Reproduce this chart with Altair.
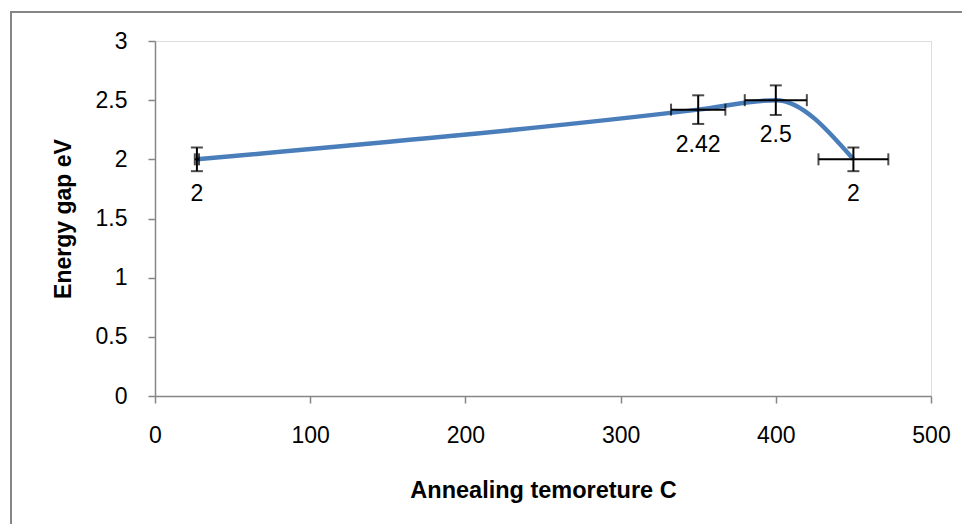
import altair as alt
import pandas as pd

# data
temps = [27, 350, 400, 450]
gaps = [2.0, 2.42, 2.5, 2.0]
gap_err = [0.1, 0.121, 0.125, 0.1]
temp_err = [1.35, 17.5, 20.0, 22.5]
labels = ["2", "2.42", "2.5", "2"]

df = pd.DataFrame({
    "t": temps, "g": gaps, "lab": labels,
    "g_lo": [g - e for g, e in zip(gaps, gap_err)],
    "g_hi": [g + e for g, e in zip(gaps, gap_err)],
    "t_lo": [t - e for t, e in zip(temps, temp_err)],
    "t_hi": [t + e for t, e in zip(temps, temp_err)],
})

FONT = "Liberation Sans"
TFONT = "Liberation Sans"
GRAY = "#868686"

xscale = alt.Scale(domain=[0, 500], nice=False, zero=False)
yscale = alt.Scale(domain=[0, 3], nice=False)

xaxis = alt.Axis(
    values=[0, 100, 200, 300, 400, 500], format="d", grid=False,
    title="Annealing temoreture C", titleFont=TFONT, titleFontSize=23.5,
    titleFontWeight="bold", titleColor="black", titleX=388, titleY=101,
    titleBaseline="alphabetic", titleAlign="center",
    labelFont=FONT, labelFontSize=23, labelColor="black", labelPadding=21,
    labelFlush=False, labelOverlap=False,
    tickSize=7, tickColor=GRAY, tickWidth=1.5, domainColor=GRAY, domainWidth=1.5,
)
yaxis = alt.Axis(
    values=[0, 0.5, 1, 1.5, 2, 2.5, 3], format="~g", grid=False,
    title="Energy gap eV", titleFont=TFONT, titleFontSize=23,
    titleFontWeight="bold", titleColor="black", titleX=-85, titleY=177.5,
    titleAngle=-90, titleBaseline="alphabetic", titleAlign="center",
    labelFont=FONT, labelFontSize=23, labelColor="black", labelPadding=21,
    labelFlush=False, labelOverlap=False,
    tickSize=7, tickColor=GRAY, tickWidth=1.5, domainColor=GRAY, domainWidth=1.5,
)

base = alt.Chart(df)

line = base.mark_line(interpolate="monotone", color="#4A7EBB", strokeWidth=4.5).encode(
    x=alt.X("t:Q", scale=xscale, axis=xaxis),
    y=alt.Y("g:Q", scale=yscale, axis=yaxis),
)

vbar = base.mark_rule(color="black", strokeWidth=2).encode(
    x="t:Q", y="g_lo:Q", y2="g_hi:Q")
vcap_lo = base.mark_tick(color="black", thickness=2, size=12, orient="horizontal").encode(
    x="t:Q", y="g_lo:Q")
vcap_hi = base.mark_tick(color="black", thickness=2, size=12, orient="horizontal").encode(
    x="t:Q", y="g_hi:Q")
hbar = base.mark_rule(color="black", strokeWidth=2).encode(
    x="t_lo:Q", x2="t_hi:Q", y="g:Q")
hcap_lo = base.mark_tick(color="black", thickness=2, size=12, orient="vertical").encode(
    x="t_lo:Q", y="g:Q")
hcap_hi = base.mark_tick(color="black", thickness=2, size=12, orient="vertical").encode(
    x="t_hi:Q", y="g:Q")

text = base.mark_text(font=FONT, fontSize=23, color="black", dy=35,
                      baseline="middle", align="center").encode(
    x="t:Q", y="g:Q", text="lab:N")

border = alt.Chart(pd.DataFrame({"k": [0]})).mark_rect(
    fill="transparent", stroke=GRAY, strokeWidth=2).encode(
    x=alt.value(-144), x2=alt.value(840), y=alt.value(-29), y2=alt.value(560))

chart = alt.layer(border, line, vbar, vcap_lo, vcap_hi, hbar, hcap_lo, hcap_hi, text).properties(
    width=776, height=355,
    autosize=alt.AutoSizeParams(type="none"),
    padding={"left": 147, "top": 33, "right": 31, "bottom": 128},
).configure_view(stroke=None).configure(background="white")

chart.save("out.html", embed_options={"renderer": "svg", "actions": False})
